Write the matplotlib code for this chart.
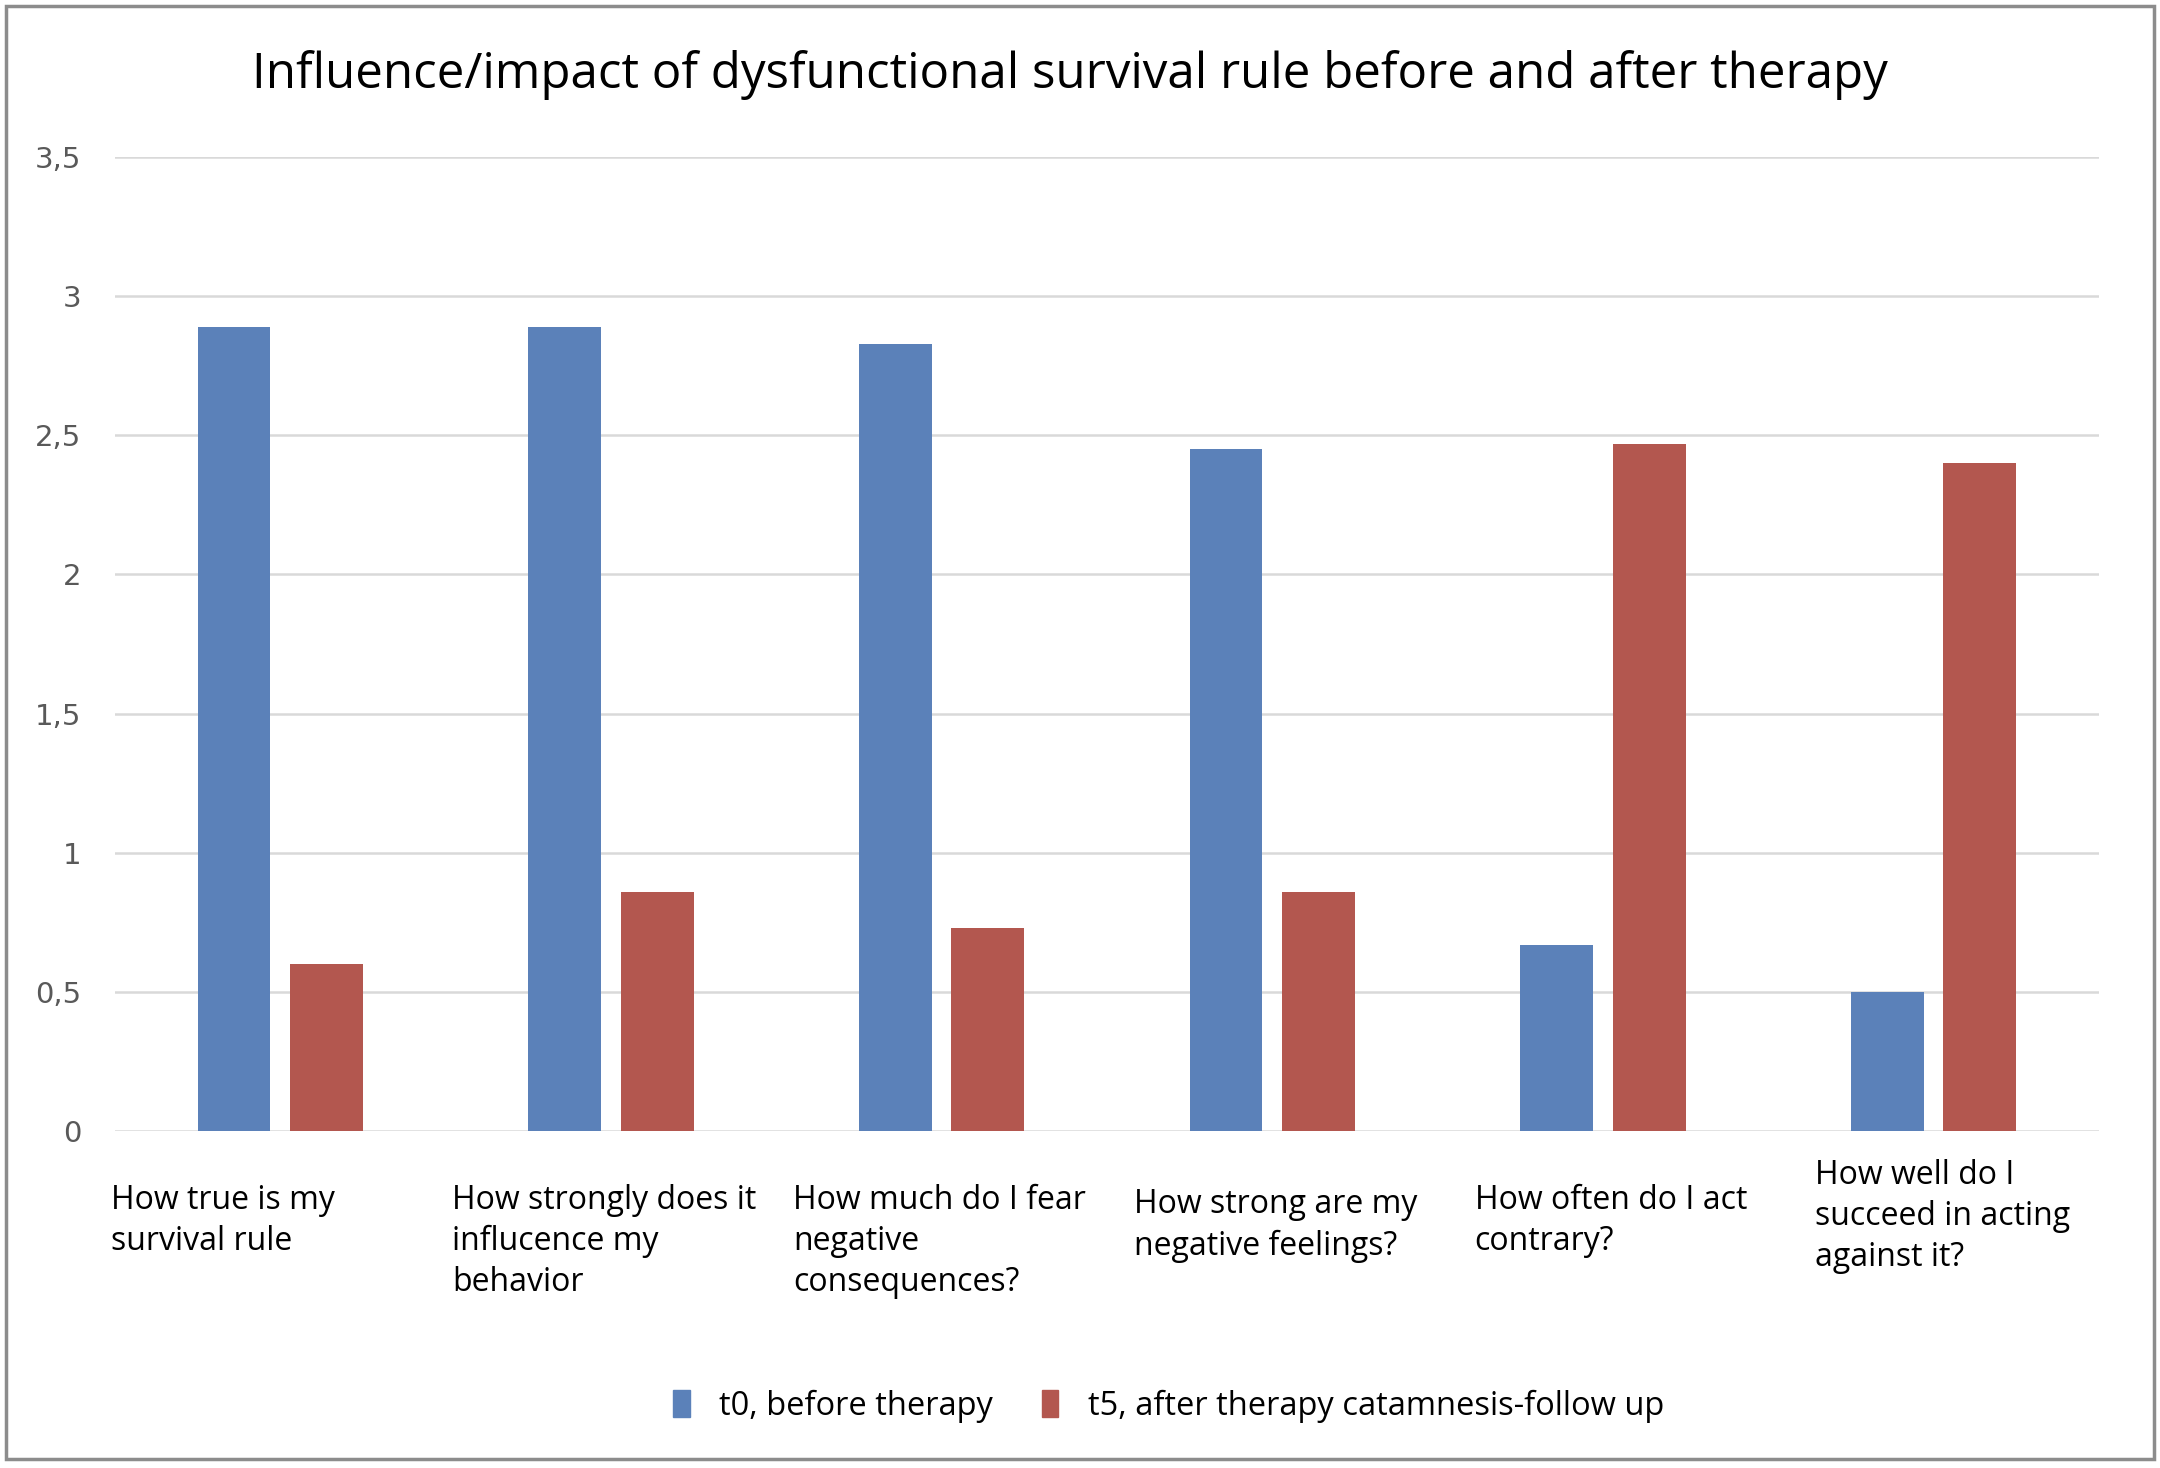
import matplotlib
matplotlib.use("Agg")
import matplotlib.pyplot as plt
from matplotlib.patches import Patch, Rectangle
import numpy as np

# data
categories = [
    "How true is my\nsurvival rule",
    "How strongly does it\ninflucence my\nbehavior",
    "How much do I fear\nnegative\nconsequences?",
    "How strong are my\nnegative feelings?",
    "How often do I act\ncontrary?",
    "How well do I\nsucceed in acting\nagainst it?",
]
t0_before = [2.89, 2.89, 2.83, 2.45, 0.67, 0.50]
t5_after = [0.60, 0.86, 0.73, 0.86, 2.47, 2.40]
series_names = ["t0, before therapy", "t5, after therapy catamnesis-follow up"]
y_ticks = [0, 0.5, 1, 1.5, 2, 2.5, 3, 3.5]

BLUE = "#5b81b9"
RED = "#b3574f"
TEXT_FONT = "Open Sans"

fig = plt.figure(figsize=(21.6, 14.68), dpi=100)
ax = fig.add_axes([0.0532, 0.2296, 0.9185, 0.6634])

x = np.arange(len(categories))
width = 0.22
ax.bar(x - 0.14, t0_before, width, color=BLUE, zorder=3)
ax.bar(x + 0.14, t5_after, width, color=RED, zorder=3)

ax.set_xlim(-0.5, len(categories) - 0.5)
ax.set_ylim(0, 3.5)
ax.set_yticks(y_ticks)
ax.set_yticklabels([f"{t:g}".replace(".", ",") for t in y_ticks],
                   fontsize=21, color="#595959", family="DejaVu Sans")
ax.set_xticks([])
ax.tick_params(axis="y", length=0, pad=24)
ax.grid(True, axis="y", color="#d9d9d9", linewidth=1.8, zorder=0)
for s in ax.spines.values():
    s.set_visible(False)

# category labels, left aligned under each group
label_top = [-0.054, -0.054, -0.054, -0.059, -0.054, -0.029]
for i, lab in enumerate(categories):
    ax.text(i * 1.031 - 0.512, label_top[i], lab, transform=ax.get_xaxis_transform(),
            ha="left", va="top", fontsize=23, family=TEXT_FONT, linespacing=1.32)

fig.text(0.4955, 0.949, "Influence/impact of dysfunctional survival rule before and after therapy",
         ha="center", va="center", fontsize=35.5, family=TEXT_FONT)

handles = [Patch(color=BLUE), Patch(color=RED)]
fig.legend(handles, series_names, loc="center", bbox_to_anchor=(0.541, 0.042), ncol=2,
           frameon=False, handlelength=0.5, handleheight=0.9, handletextpad=0.9,
           columnspacing=1.5, prop={"family": TEXT_FONT, "size": 23.5})

fig.patches.append(Rectangle((0.003, 0.006), 0.994, 0.99, transform=fig.transFigure,
                             fill=False, edgecolor="#8c8c8c", linewidth=2.5))

fig.savefig("out.png", dpi=100)
